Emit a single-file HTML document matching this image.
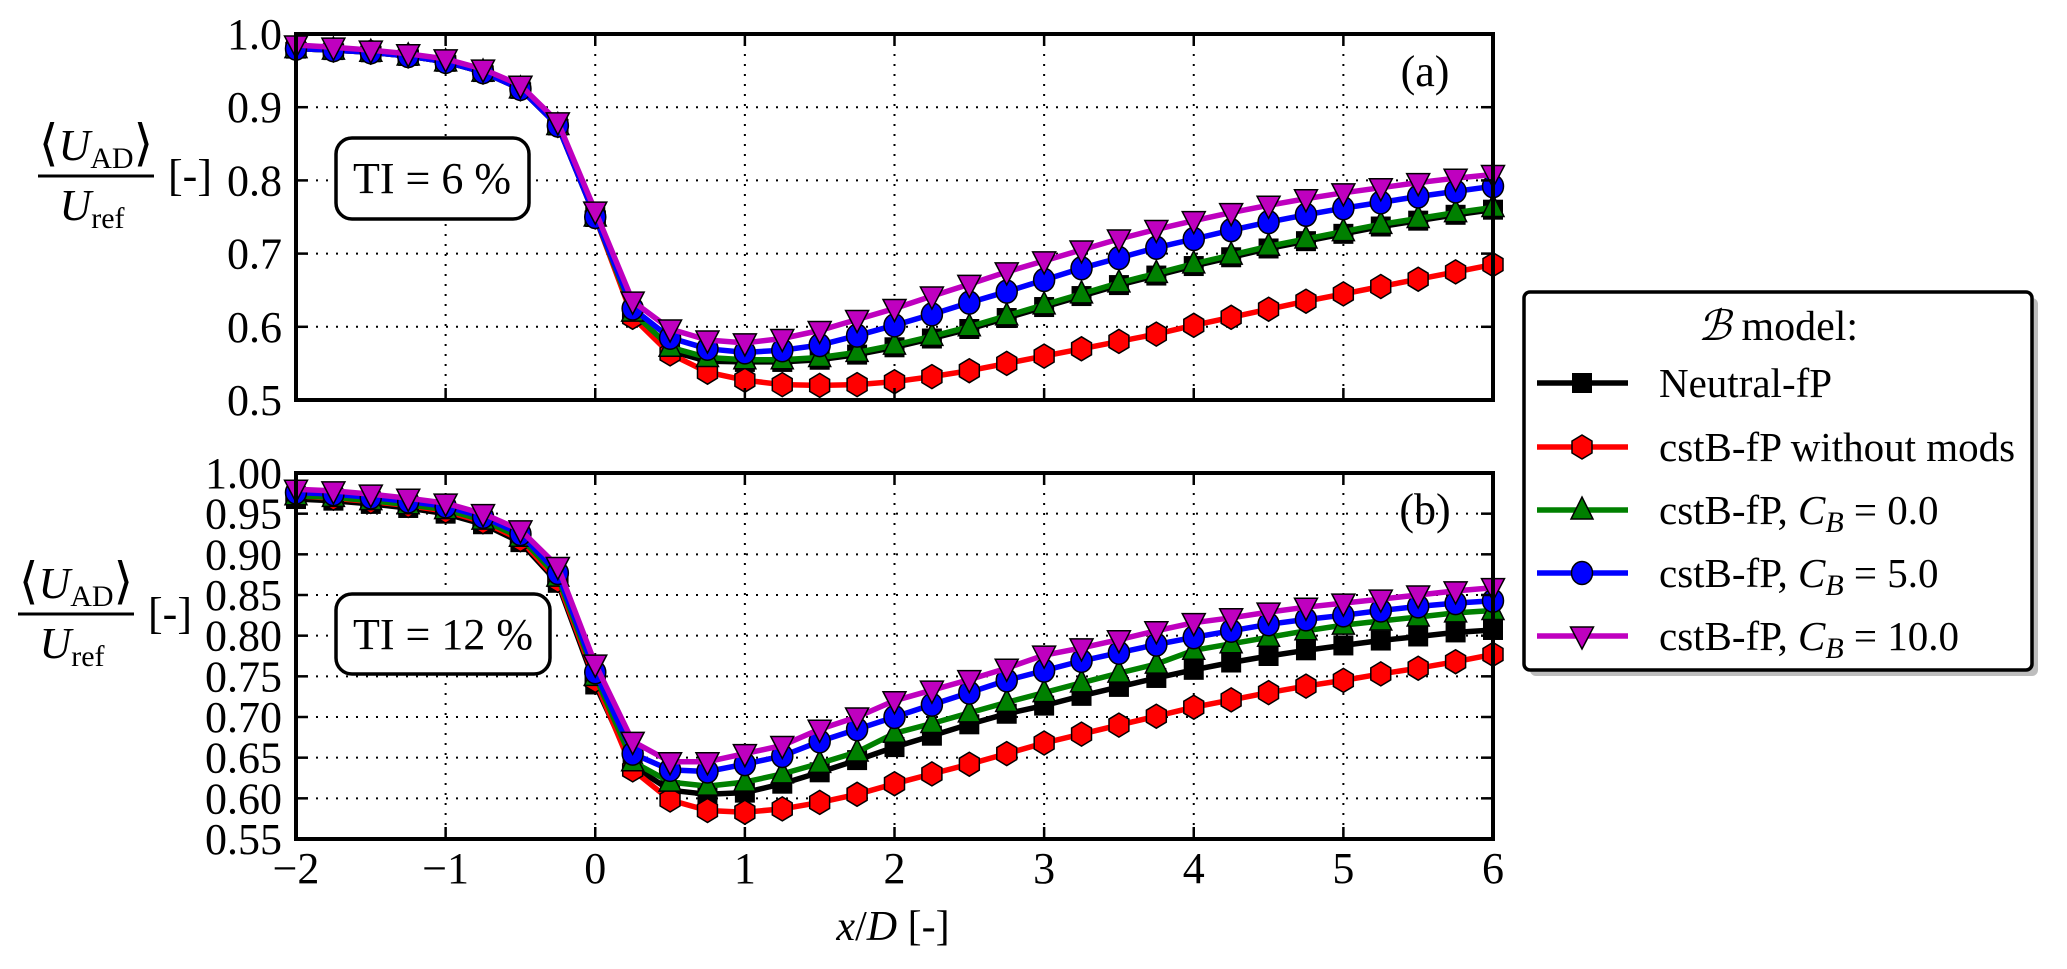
<!DOCTYPE html>
<html><head><meta charset="utf-8">
<style>
html,body{margin:0;padding:0;background:#fff;}
svg{display:block;}
svg text{font-family:"Liberation Serif","Times New Roman","DejaVu Serif",serif !important;fill:#000;}
</style></head>
<body>
<svg id="s" width="2067" height="969" viewBox="0 0 2067 969" xmlns="http://www.w3.org/2000/svg" font-family="Liberation Serif, Times New Roman, serif">
<rect width="2067" height="969" fill="#fff"/>
<g id="grid"></g>
<g id="series"></g>
<g id="frame"></g>
<g id="labels" font-size="42">
  <text x="96" y="160" text-anchor="middle" font-size="44"><tspan font-size="50">⟨</tspan><tspan font-style="italic">U</tspan><tspan font-size="30" dy="8">AD</tspan><tspan font-size="50" dy="-8">⟩</tspan></text>
  <line x1="38" y1="176" x2="154" y2="176" stroke="#000" stroke-width="3"/>
  <text x="92" y="220" text-anchor="middle" font-size="44"><tspan font-style="italic">U</tspan><tspan font-size="30" dy="8">ref</tspan></text>
  <text x="190" y="190" text-anchor="middle" font-size="44">[-]</text>
  <text x="76" y="598" text-anchor="middle" font-size="44"><tspan font-size="50">⟨</tspan><tspan font-style="italic">U</tspan><tspan font-size="30" dy="8">AD</tspan><tspan font-size="50" dy="-8">⟩</tspan></text>
  <line x1="18" y1="614" x2="134" y2="614" stroke="#000" stroke-width="3"/>
  <text x="72" y="658" text-anchor="middle" font-size="44"><tspan font-style="italic">U</tspan><tspan font-size="30" dy="8">ref</tspan></text>
  <text x="170" y="628" text-anchor="middle" font-size="44">[-]</text>
  <rect x="336" y="138" width="193" height="81" rx="16" fill="#fff" stroke="#000" stroke-width="3.5"/>
  <text x="432" y="193" text-anchor="middle" font-size="44">TI = 6 %</text>
  <rect x="336" y="594" width="214" height="80" rx="16" fill="#fff" stroke="#000" stroke-width="3.5"/>
  <text x="443" y="649" text-anchor="middle" font-size="44">TI = 12 %</text>
  <text x="1425" y="86" text-anchor="middle" font-size="44">(a)</text>
  <text x="1425" y="524" text-anchor="middle" font-size="44">(b)</text>
  <text x="893" y="940" text-anchor="middle" font-size="42"><tspan font-style="italic">x</tspan>/<tspan font-style="italic">D</tspan> [-]</text>
</g>
<g id="legend"></g>
</svg>
<script>
(function(){
var NS="http://www.w3.org/2000/svg";
function el(tag,attrs,parent,txt){var e=document.createElementNS(NS,tag);for(var k in attrs)e.setAttribute(k,attrs[k]);if(txt!==undefined)e.textContent=txt;parent.appendChild(e);return e;}
var L=296,R=1493;
function X(x){return L+(x+2)*(R-L)/8;}
var A={top:34,bot:400,min:0.5,max:1.0,ticks:[0.5,0.6,0.7,0.8,0.9,1.0],fmt:1};
var B={top:473,bot:839,min:0.55,max:1.0,ticks:[0.55,0.6,0.65,0.7,0.75,0.8,0.85,0.9,0.95,1.0],fmt:2};
function Y(p,v){return p.bot-(v-p.min)/(p.max-p.min)*(p.bot-p.top);}
var grid=document.getElementById('grid'),frame=document.getElementById('frame'),ser=document.getElementById('series'),lab=document.getElementById('labels');
[A,B].forEach(function(p,pi){
  for(var xi=-1;xi<=5;xi++){el('line',{x1:X(xi),x2:X(xi),y1:p.top,y2:p.bot,stroke:'#000','stroke-width':2,'stroke-dasharray':'2,8'},grid);}
  p.ticks.forEach(function(t){var y=Y(p,t);
    if(t>p.min+1e-6&&t<p.max-1e-6) el('line',{x1:L,x2:R,y1:y,y2:y,stroke:'#000','stroke-width':2,'stroke-dasharray':'2,8'},grid);
    el('line',{x1:L,x2:L+12,y1:y,y2:y,stroke:'#000','stroke-width':2.5},frame);
    el('line',{x1:R-12,x2:R,y1:y,y2:y,stroke:'#000','stroke-width':2.5},frame);
    el('text',{x:282,y:y+15,'text-anchor':'end','font-size':44},lab,t.toFixed(p.fmt));
  });
  for(var xi=-2;xi<=6;xi++){
    el('line',{x1:X(xi),x2:X(xi),y1:p.bot,y2:p.bot-12,stroke:'#000','stroke-width':2.5},frame);
    el('line',{x1:X(xi),x2:X(xi),y1:p.top,y2:p.top+12,stroke:'#000','stroke-width':2.5},frame);
  }
  el('rect',{x:L,y:p.top,width:R-L,height:p.bot-p.top,fill:'none',stroke:'#000','stroke-width':4},frame);
});
for(var xi=-2;xi<=6;xi++){el('text',{x:X(xi),y:883,'text-anchor':'middle','font-size':44},lab,(xi<0?'\u2212':'')+Math.abs(xi));}

var pre_a=[0.98,0.978,0.975,0.97,0.962,0.948,0.925,0.875,0.75];
var a={
 k:pre_a.concat([0.617,0.567,0.553,0.552,0.552,0.555,0.562,0.572,0.584,0.597,0.612,0.627,0.642,0.657,0.670,0.683,0.695,0.707,0.717,0.727,0.737,0.745,0.753,0.760]),
 r:pre_a.concat([0.613,0.563,0.538,0.527,0.521,0.52,0.521,0.525,0.532,0.54,0.55,0.56,0.57,0.58,0.59,0.602,0.613,0.624,0.635,0.645,0.655,0.665,0.675,0.685]),
 g:pre_a.concat([0.62,0.572,0.558,0.555,0.555,0.558,0.565,0.575,0.587,0.6,0.615,0.63,0.645,0.66,0.673,0.686,0.698,0.71,0.72,0.73,0.74,0.748,0.756,0.763]),
 b:pre_a.concat([0.625,0.585,0.57,0.565,0.568,0.575,0.588,0.602,0.617,0.633,0.648,0.664,0.68,0.694,0.708,0.72,0.732,0.743,0.753,0.762,0.77,0.778,0.785,0.792]),
 m:[0.985,0.982,0.978,0.973,0.966,0.952,0.93,0.88,0.758,0.635,0.597,0.582,0.578,0.584,0.595,0.61,0.625,0.642,0.658,0.675,0.69,0.705,0.72,0.733,0.745,0.756,0.766,0.775,0.783,0.79,0.797,0.803,0.808]
};
var b={
 k:[0.968,0.966,0.962,0.957,0.95,0.937,0.915,0.865,0.74,0.64,0.61,0.605,0.607,0.618,0.632,0.647,0.663,0.677,0.691,0.704,0.714,0.726,0.737,0.748,0.758,0.767,0.775,0.782,0.788,0.794,0.799,0.804,0.807],
 r:[0.972,0.969,0.965,0.96,0.953,0.94,0.918,0.868,0.745,0.635,0.598,0.585,0.583,0.587,0.595,0.605,0.618,0.630,0.642,0.655,0.668,0.679,0.69,0.701,0.712,0.721,0.73,0.738,0.745,0.753,0.76,0.768,0.777],
 g:[0.972,0.97,0.966,0.961,0.955,0.942,0.921,0.872,0.75,0.645,0.62,0.615,0.62,0.63,0.643,0.657,0.68,0.692,0.705,0.718,0.73,0.742,0.754,0.765,0.782,0.79,0.798,0.806,0.813,0.818,0.823,0.828,0.831],
 b:[0.976,0.974,0.97,0.965,0.959,0.946,0.925,0.877,0.755,0.655,0.635,0.633,0.642,0.652,0.67,0.685,0.700,0.715,0.73,0.745,0.757,0.769,0.779,0.789,0.798,0.806,0.814,0.82,0.825,0.831,0.836,0.84,0.843],
 m:[0.98,0.978,0.974,0.969,0.963,0.95,0.93,0.885,0.765,0.67,0.645,0.645,0.655,0.665,0.685,0.7,0.72,0.733,0.746,0.76,0.776,0.785,0.795,0.806,0.816,0.822,0.829,0.835,0.84,0.845,0.85,0.855,0.859]
};
var colors={k:'#000000',r:'#ff0000',g:'#008000',b:'#0000ff',m:'#bf00bf'};
function marker(t,cx,cy,parent){
  var c=colors[t],st={fill:c,stroke:'#000','stroke-width':1.5};
  if(t==='k'){el('rect',{x:cx-10,y:cy-10,width:20,height:20,fill:'#000'},parent);}
  else if(t==='r'){var pts=[];for(var i=0;i<6;i++){var an=Math.PI/2+i*Math.PI/3;pts.push((cx+11.5*Math.cos(an)).toFixed(1)+','+(cy+12*Math.sin(an)).toFixed(1));}el('polygon',Object.assign({points:pts.join(' ')},st),parent);}
  else if(t==='g'){el('polygon',Object.assign({points:cx+','+(cy-13)+' '+(cx+11)+','+(cy+9)+' '+(cx-11)+','+(cy+9)},st),parent);}
  else if(t==='b'){el('ellipse',Object.assign({cx:cx,cy:cy,rx:10.5,ry:11.5},st),parent);}
  else {el('polygon',Object.assign({points:cx+','+(cy+13)+' '+(cx+11.5)+','+(cy-9)+' '+(cx-11.5)+','+(cy-9)},st),parent);}
}
[[A,a],[B,b]].forEach(function(pp){
  var p=pp[0],d=pp[1];
  ['k','r','g','b','m'].forEach(function(t){
    var pts=d[t].map(function(v,i){return X(-2+i*0.25).toFixed(1)+','+Y(p,v).toFixed(1);});
    el('polyline',{points:pts.join(' '),fill:'none',stroke:colors[t],'stroke-width':5.5,'stroke-linejoin':'round'},ser);
    d[t].forEach(function(v,i){marker(t,X(-2+i*0.25),Y(p,v),ser);});
  });
});
var lg=document.getElementById('legend');
el('rect',{x:1530,y:298,width:508,height:378,rx:6,fill:'#bdbdbd'},lg);
el('rect',{x:1524,y:292,width:508,height:378,rx:6,fill:'#fff',stroke:'#000','stroke-width':3.5},lg);
var tt=el('text',{x:1778,y:340,'text-anchor':'middle','font-size':42},lg);
el('tspan',{'font-style':'italic'},tt,'\u212C');el('tspan',{},tt,' model:');
var rows=[['k',383,'Neutral-fP'],['r',447,'cstB-fP without mods'],['g',510,'0.0'],['b',573,'5.0'],['m',636,'10.0']];
rows.forEach(function(r){
  el('line',{x1:1537,x2:1628,y1:r[1],y2:r[1],stroke:colors[r[0]],'stroke-width':5.5},lg);
  marker(r[0],1582,r[1],lg);
  var t=el('text',{x:1659,y:r[1]+14,'font-size':41},lg);
  if(r[0]==='k'||r[0]==='r'){t.textContent=r[2];}
  else{el('tspan',{},t,'cstB-fP, ');el('tspan',{'font-style':'italic'},t,'C');el('tspan',{'font-style':'italic','font-size':30,dy:8},t,'B');el('tspan',{dy:-8},t,' = '+r[2]);}
});
})();
</script>
</body></html>
